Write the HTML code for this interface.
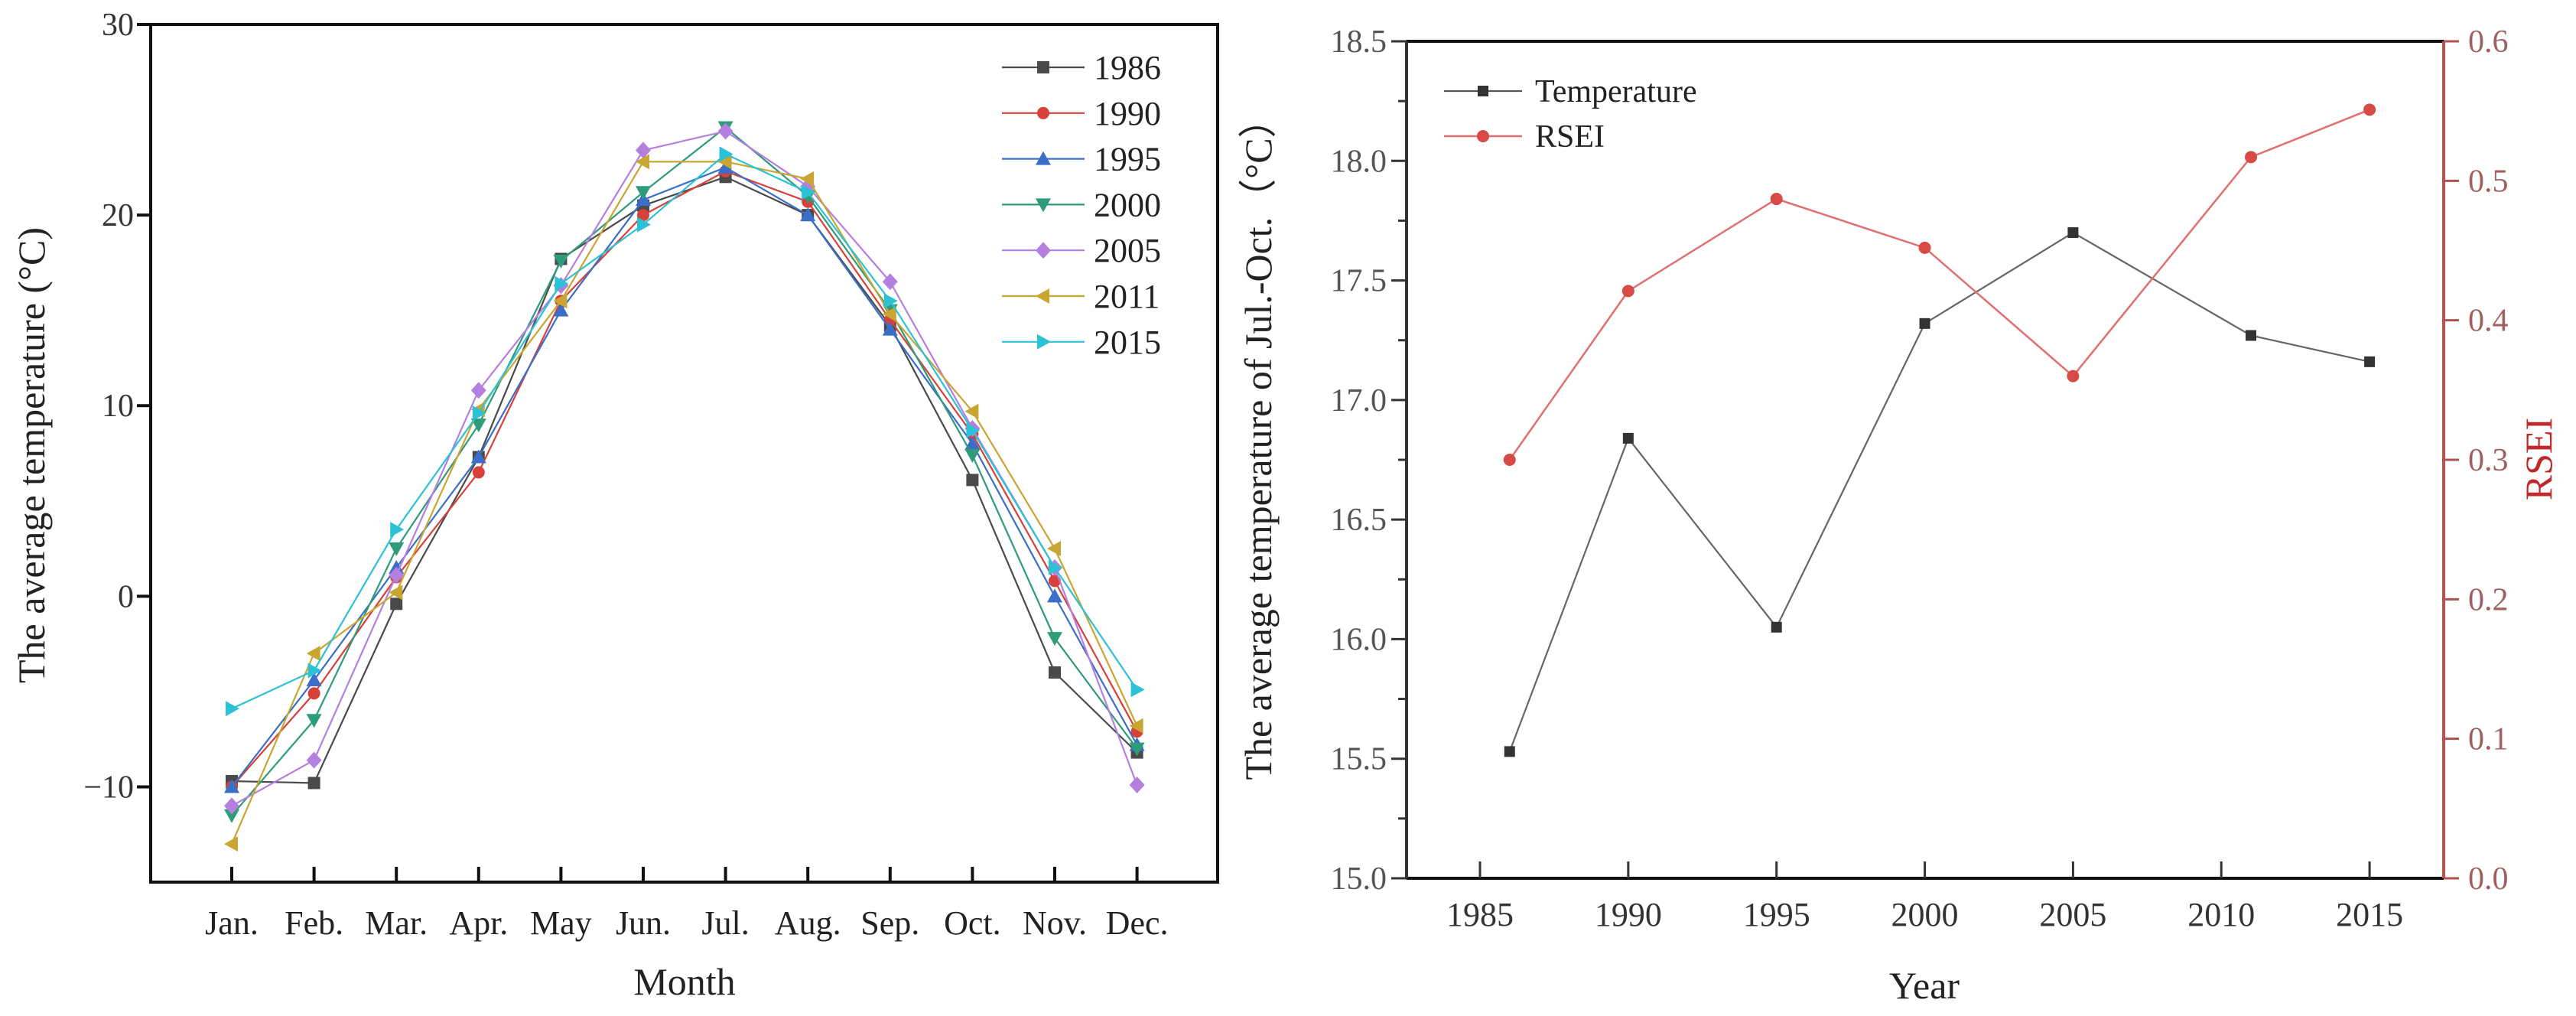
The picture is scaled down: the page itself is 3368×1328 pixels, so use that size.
<!DOCTYPE html>
<html><head><meta charset="utf-8"><style>
html,body{margin:0;padding:0;background:#fff}
svg{display:block;font-family:"Liberation Serif",serif}
</style></head><body>
<svg id="c" width="3368" height="1328" viewBox="0 0 3368 1328" xmlns="http://www.w3.org/2000/svg"></svg>
<script>
// ---- left chart data ----
const months = ["Jan.","Feb.","Mar.","Apr.","May","Jun.","Jul.","Aug.","Sep.","Oct.","Nov.","Dec."];
const seriesYears = ["1986","1990","1995","2000","2005","2011","2015"];
const t1986 = [-9.7,-9.8,-0.4,7.3,17.7,20.5,22.0,20.0,14.2,6.1,-4.0,-8.2];
const t1990 = [-10.0,-5.1,1.0,6.5,15.5,20.0,22.3,20.7,14.5,8.5,0.8,-7.1];
const t1995 = [-10.0,-4.4,1.5,7.3,15.0,20.8,22.5,20.0,14.0,8.0,0.0,-7.8];
const t2000 = [-11.5,-6.5,2.5,9.0,17.6,21.2,24.6,21.0,15.0,7.4,-2.2,-8.0];
const t2005 = [-11.0,-8.6,1.1,10.8,16.3,23.4,24.4,21.5,16.5,8.8,1.5,-9.9];
const t2011 = [-13.0,-3.0,0.2,9.8,15.5,22.8,22.8,21.9,14.8,9.7,2.5,-6.8];
const t2015 = [-5.9,-3.9,3.5,9.6,16.4,19.5,23.2,21.2,15.5,8.7,1.5,-4.9];
const leftTicks = [-10,0,10,20,30];
// ---- right chart data ----
const years = [1986,1990,1995,2000,2005,2011,2015];
const tempJulOct = [15.53,16.84,16.05,17.32,17.70,17.27,17.16];
const rsei = [0.300,0.421,0.487,0.452,0.360,0.517,0.551];
const rightYTicks = ["15.0","15.5","16.0","16.5","17.0","17.5","18.0","18.5"];
const rsiTicks = ["0.0","0.1","0.2","0.3","0.4","0.5","0.6"];
const xYearTicks = [1985,1990,1995,2000,2005,2010,2015];

const svg = document.getElementById('c');
const NS = "http://www.w3.org/2000/svg";
function mk(tag, attrs, parent){const e=document.createElementNS(NS,tag);for(const k in attrs)e.setAttribute(k,attrs[k]);(parent||svg).appendChild(e);return e;}

// ===== LEFT CHART =====
const L={x0:197,x1:1592,y0:32,y1:1153};
const lx=i=>303+i*107.6;
const ly=v=>L.y1-(v+15)/45*(L.y1-L.y0);
const gL=mk('g',{});


const frame=mk('rect',{x:L.x0,y:L.y0,width:L.x1-L.x0,height:L.y1-L.y0,fill:'none',stroke:'#111','stroke-width':4},gL);

leftTicks.forEach(v=>{
  const y=ly(v);
  mk('line',{x1:L.x0,x2:L.x0-18,y1:y,y2:y,stroke:'#111','stroke-width':4},gL);
  const t=mk('text',{x:L.x0-22,y:y+14,'text-anchor':'end','font-size':42,fill:'#333'},gL);
  t.textContent=v<0?'\u2212'+(-v):String(v);
  
});
months.forEach((m,i)=>{
  const x=lx(i);
  mk('line',{x1:x,x2:x,y1:L.y1,y2:L.y1-20,stroke:'#111','stroke-width':4},gL);
  const t=mk('text',{x:x,y:1221,'text-anchor':'middle','font-size':44,fill:'#222'},gL);
  t.textContent=m;
  
});
let tt=mk('text',{x:895,y:1300,'text-anchor':'middle','font-size':50,fill:'#222'},gL);tt.textContent='Month';

tt=mk('text',{x:0,y:0,'text-anchor':'middle','font-size':50,fill:'#222',transform:'translate(58,595) rotate(-90)'},gL);tt.textContent='The average temperature (\u00b0C)';


const allSeries=[t1986,t1990,t1995,t2000,t2005,t2011,t2015];
const colors=['#4a4a4a','#d8403a','#3b6ec8','#2e9b7a','#b57fe0','#c9a632','#2cc2d6'];
const shapes=['square','circle','up','down','diamond','left','right'];
function marker(shape,x,y,c,parent){
  const s=8;
  let e;
  if(shape==='square')e=mk('rect',{x:x-s,y:y-s,width:2*s,height:2*s,fill:c},parent);
  else if(shape==='circle')e=mk('circle',{cx:x,cy:y,r:s,fill:c},parent);
  else{
    let p;
    if(shape==='up')p=[[x,y-s-2],[x+s+2,y+s],[x-s-2,y+s]];
    if(shape==='down')p=[[x,y+s+2],[x+s+2,y-s],[x-s-2,y-s]];
    if(shape==='left')p=[[x-s-2,y],[x+s,y-s-2],[x+s,y+s+2]];
    if(shape==='right')p=[[x+s+2,y],[x-s,y-s-2],[x-s,y+s+2]];
    if(shape==='diamond')p=[[x,y-s-3],[x+s+2,y],[x,y+s+3],[x-s-2,y]];
    e=mk('polygon',{points:p.map(q=>q.join(',')).join(' '),fill:c},parent);
  }
  return e;
}
allSeries.forEach((d,si)=>{
  const g=mk('g',{},gL);
  
  const pl=mk('polyline',{points:d.map((v,i)=>lx(i)+','+ly(v)).join(' '),fill:'none',stroke:colors[si],'stroke-width':2.2},g);
  
  d.forEach((v,i)=>{const m=marker(shapes[si],lx(i),ly(v),colors[si],g);
    });
});
// legend
const lg=mk('g',{},gL);

seriesYears.forEach((yr,i)=>{
  const y=88+i*59.8;
  const eg=mk('g',{},lg);
  
  mk('line',{x1:1310,x2:1418,y1:y,y2:y,stroke:colors[i],'stroke-width':2.2},eg);
  marker(shapes[i],1364,y,colors[i],eg);
  const t=mk('text',{x:1430,y:y+15,'font-size':44,fill:'#222'},eg);t.textContent=yr;
});

// ===== RIGHT CHART =====
const R={x0:1839,x1:3195,y0:54,y1:1148};
const rx=yr=>1935+(yr-1985)*38.77;
const ryT=v=>R.y1-(v-15)/3.5*(R.y1-R.y0);
const ryR=v=>R.y1-v/0.6*(R.y1-R.y0);
const gR=mk('g',{});

mk('line',{x1:R.x0,x2:R.x1,y1:R.y0,y2:R.y0,stroke:'#111','stroke-width':4},gR);
mk('line',{x1:R.x0,x2:R.x1,y1:R.y1,y2:R.y1,stroke:'#111','stroke-width':4},gR);
mk('line',{x1:R.x0,x2:R.x0,y1:R.y0,y2:R.y1,stroke:'#333','stroke-width':4},gR);
mk('line',{x1:R.x1,x2:R.x1,y1:R.y0,y2:R.y1,stroke:'#c0504d','stroke-width':4},gR);
rightYTicks.forEach(s=>{
  const y=ryT(parseFloat(s));
  mk('line',{x1:R.x0,x2:R.x0-20,y1:y,y2:y,stroke:'#333','stroke-width':3},gR);
  const t=mk('text',{x:R.x0-26,y:y+14,'text-anchor':'end','font-size':42,fill:'#555'},gR);t.textContent=s;
  
  if(parseFloat(s)<18.5){const ym=ryT(parseFloat(s)+0.25);mk('line',{x1:R.x0,x2:R.x0-11,y1:ym,y2:ym,stroke:'#333','stroke-width':3},gR);}
});
rsiTicks.forEach(s=>{
  const y=ryR(parseFloat(s));
  mk('line',{x1:R.x1,x2:R.x1+20,y1:y,y2:y,stroke:'#b05050','stroke-width':3},gR);
  const t=mk('text',{x:R.x1+32,y:y+14,'font-size':42,fill:'#a06060'},gR);t.textContent=s;
  
});
xYearTicks.forEach(yr=>{
  const x=rx(yr);
  mk('line',{x1:x,x2:x,y1:R.y1,y2:R.y1-22,stroke:'#333','stroke-width':3},gR);
  const t=mk('text',{x:x,y:1210,'text-anchor':'middle','font-size':44,fill:'#333'},gR);t.textContent=yr;
  
});
tt=mk('text',{x:2516,y:1305,'text-anchor':'middle','font-size':50,fill:'#222'},gR);tt.textContent='Year';

tt=mk('text',{x:0,y:0,'text-anchor':'middle','font-size':50,fill:'#222',transform:'translate(1662,575) rotate(-90)'},gR);tt.textContent='The average temperature of Jul.-Oct.\uff08\u00b0C\uff09';

tt=mk('text',{x:0,y:0,'text-anchor':'middle','font-size':50,fill:'#c0282a',transform:'translate(3336,600) rotate(-90)'},gR);tt.textContent='RSEI';

// series
let pl=mk('polyline',{points:years.map((y,i)=>rx(y)+','+ryT(tempJulOct[i])).join(' '),fill:'none',stroke:'#666','stroke-width':2.2},gR);

years.forEach((y,i)=>{const m=mk('rect',{x:rx(y)-7,y:ryT(tempJulOct[i])-7,width:14,height:14,fill:'#333'},gR);
  });
pl=mk('polyline',{points:years.map((y,i)=>rx(y)+','+ryR(rsei[i])).join(' '),fill:'none',stroke:'#e07070','stroke-width':2.5},gR);

years.forEach((y,i)=>{const m=mk('circle',{cx:rx(y),cy:ryR(rsei[i]),r:8,fill:'#d84a45'},gR);
  });
// legend
const lg2=mk('g',{},gR);

let e=mk('g',{},lg2);
mk('line',{x1:1888,x2:1990,y1:119,y2:119,stroke:'#555','stroke-width':2.2},e);
mk('rect',{x:1932,y:112,width:14,height:14,fill:'#333'},e);
let t=mk('text',{x:2007,y:133,'font-size':42,fill:'#222'},e);t.textContent='Temperature';
e=mk('g',{},lg2);
mk('line',{x1:1888,x2:1990,y1:178,y2:178,stroke:'#e07070','stroke-width':2.5},e);
mk('circle',{cx:1939,cy:178,r:8,fill:'#d84a45'},e);
t=mk('text',{x:2007,y:192,'font-size':42,fill:'#222'},e);t.textContent='RSEI';
</script>
</body></html>
